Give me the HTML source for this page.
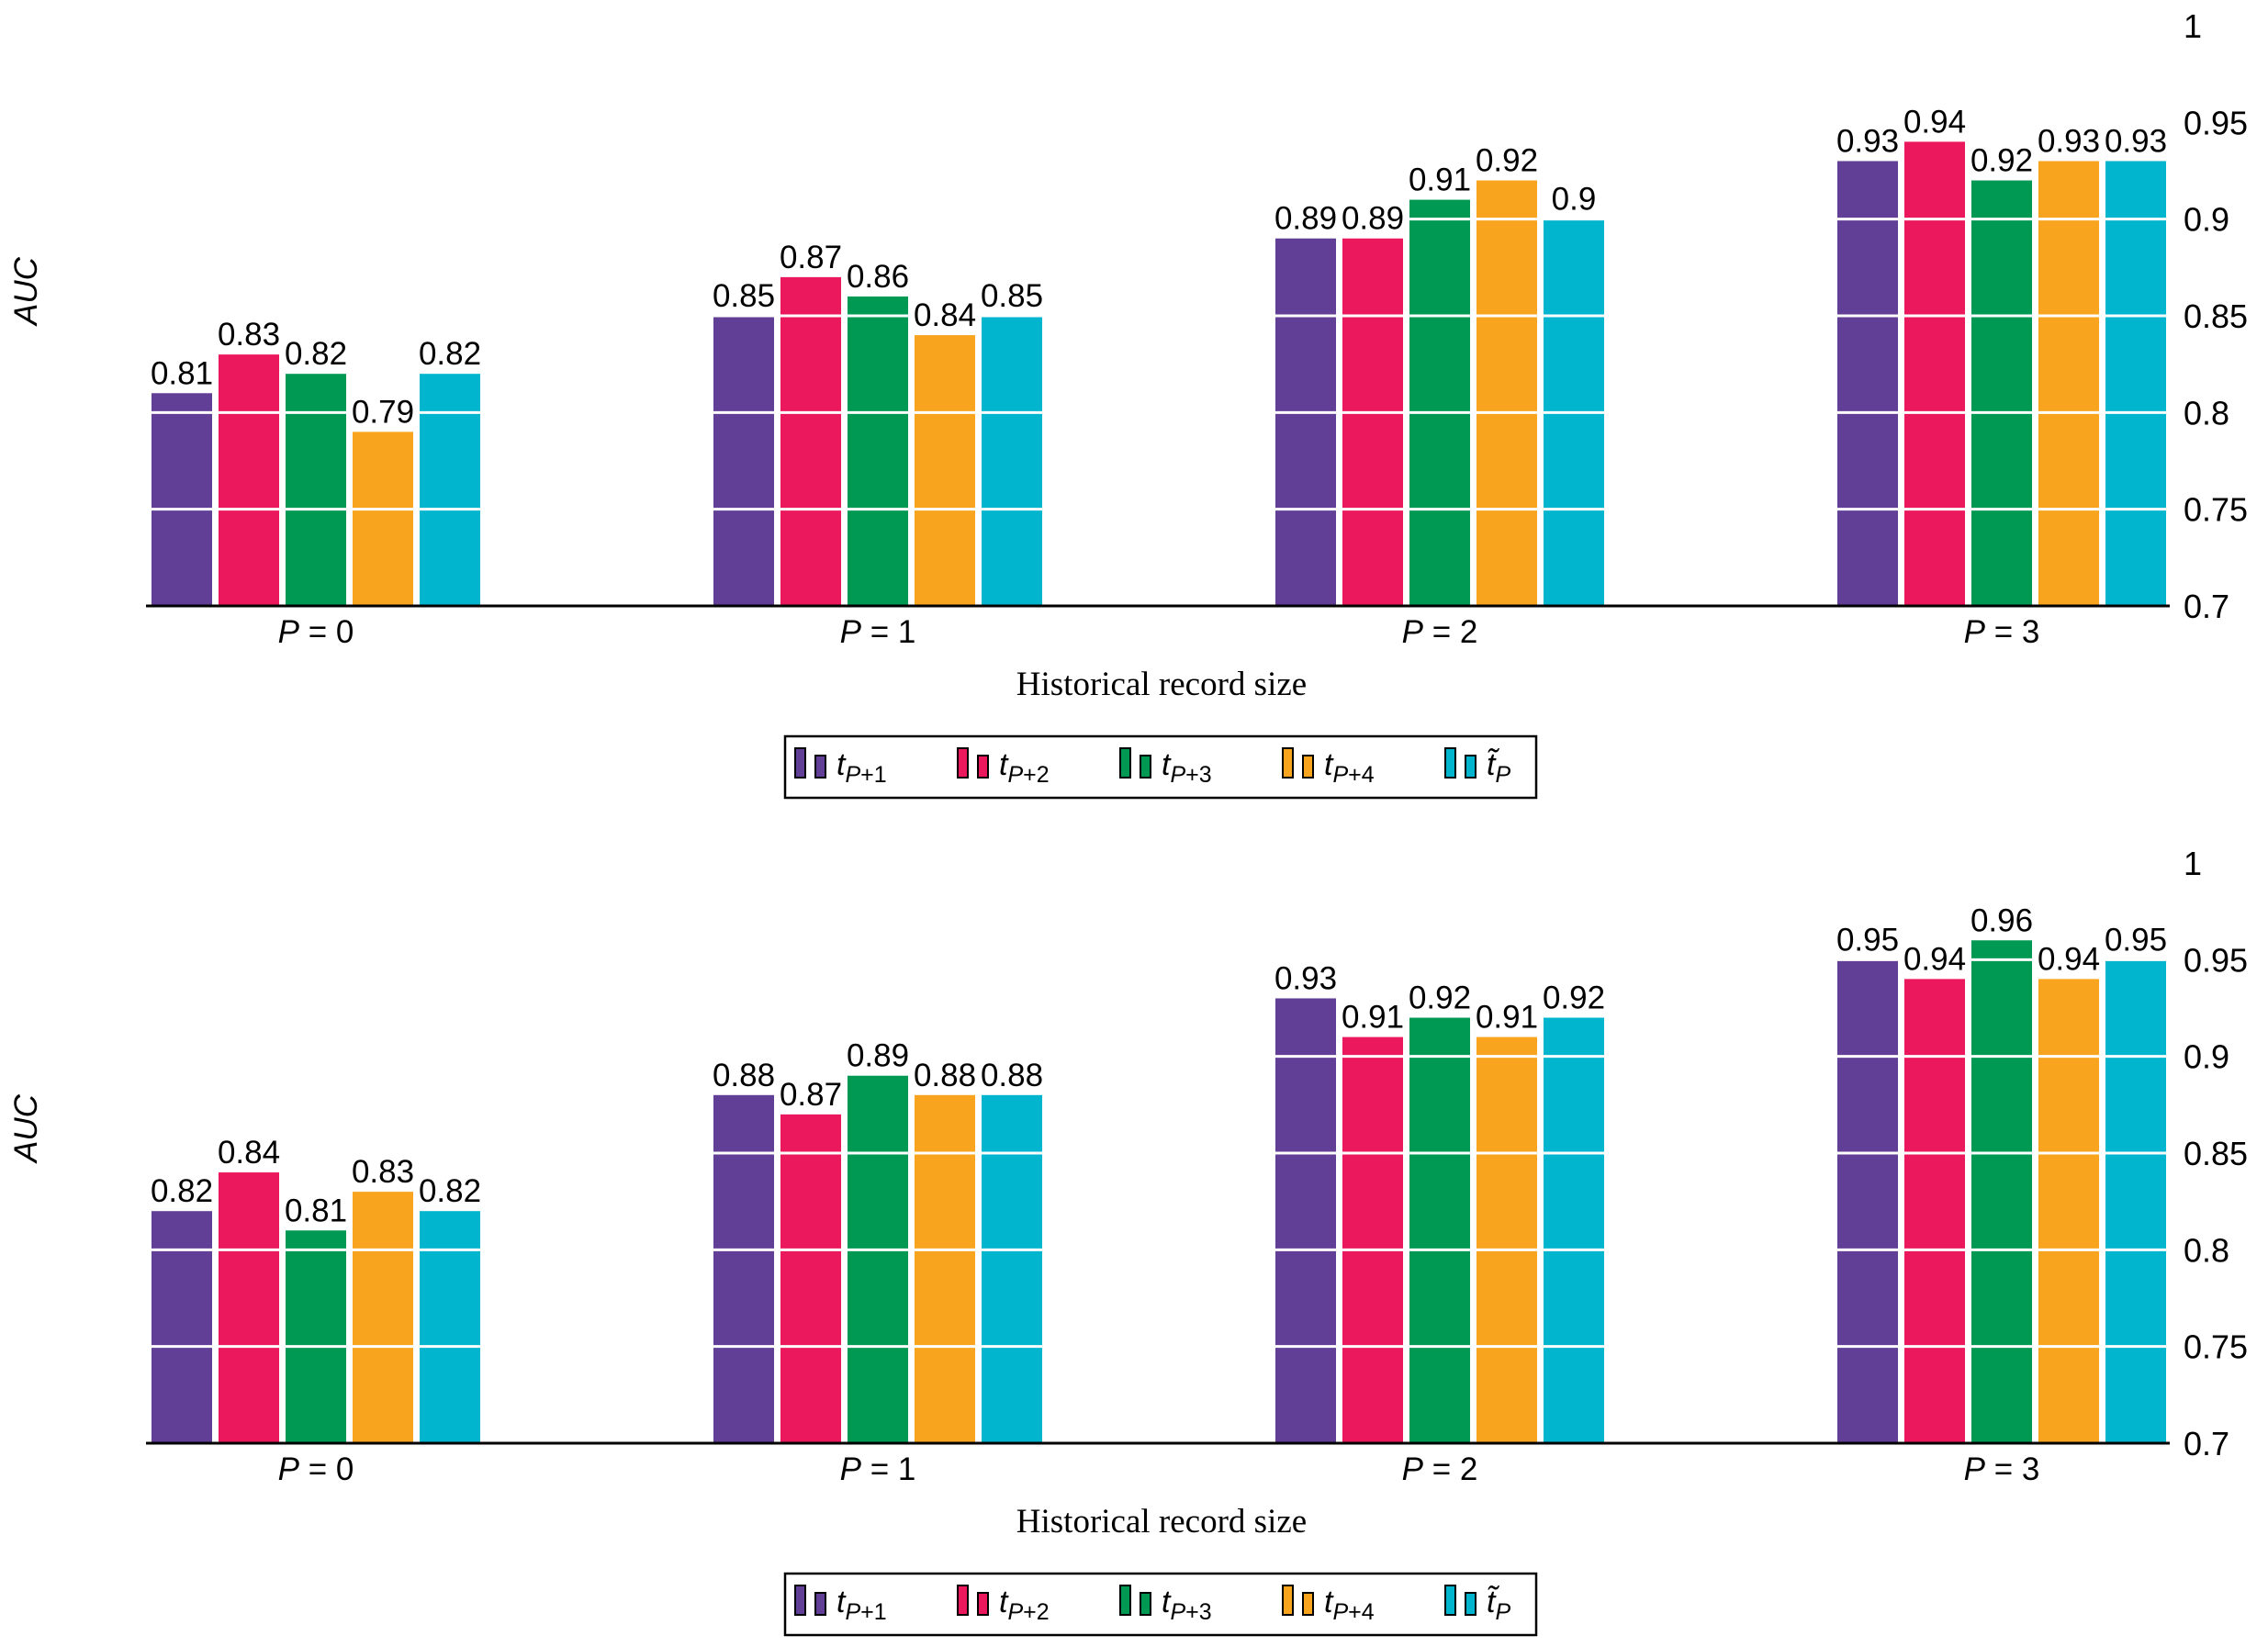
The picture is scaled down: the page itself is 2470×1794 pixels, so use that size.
<!DOCTYPE html>
<html><head><meta charset="utf-8"><style>
html,body{margin:0;padding:0;background:#fff;}
svg{display:block;font-family:"Liberation Sans","DejaVu Sans",sans-serif;}
</style></head><body>
<svg id="chart" width="2470" height="1794" viewBox="0 0 2470 1794"></svg>
<script>
const categories = ["P = 0","P = 1","P = 2","P = 3"];
const seriesNames = ["tP+1","tP+2","tP+3","tP+4","tP~"];
const colors = ["#623f96","#ec185d","#009953","#f8a41f","#00b5cd"];
const topT1 = [0.81,0.85,0.89,0.93];
const topT2 = [0.83,0.87,0.89,0.94];
const topT3 = [0.82,0.86,0.91,0.92];
const topT4 = [0.79,0.84,0.92,0.93];
const topTP = [0.82,0.85,0.90,0.93];
const botT1 = [0.82,0.88,0.93,0.95];
const botT2 = [0.84,0.87,0.91,0.94];
const botT3 = [0.81,0.89,0.92,0.96];
const botT4 = [0.83,0.88,0.91,0.94];
const botTP = [0.82,0.88,0.92,0.95];
const yTicks = [0.7,0.75,0.8,0.85,0.9,0.95,1];

const NS="http://www.w3.org/2000/svg";
const svg=document.getElementById('chart');
function mk(tag,attrs,parent){const e=document.createElementNS(NS,tag);for(const k in attrs)e.setAttribute(k,attrs[k]);(parent||svg).appendChild(e);return e;}

function drawPanel(series, axisY, name){
  const g=mk('g',{});
  
  
  const yScale=v=>axisY-(v-0.7)/0.3*632;
  const groupStart=i=>165+i*612;
  const barW=66, pitch=73;
  series.forEach((vals,s)=>{
    vals.forEach((v,i)=>{
      const x=groupStart(i)+s*pitch, y=yScale(v);
      const r=mk('rect',{x:x,y:y,width:barW,height:axisY-y,fill:colors[s]},g);
      
      
    });
  });
  yTicks.forEach(v=>{
    const y=yScale(v);
    if(v>0.7) mk('line',{x1:160,x2:2363,y1:y,y2:y,stroke:'#fff','stroke-width':3},g);
    const t=mk('text',{x:2378,y:y+13,'font-size':36,fill:'#000'},g);
    t.textContent=String(v);
    
    
  });
  series.forEach((vals,s)=>{
    vals.forEach((v,i)=>{
      const x=groupStart(i)+s*pitch, y=yScale(v);
      const t=mk('text',{x:x+barW/2,y:y-10,'text-anchor':'middle','font-size':35,fill:'#000'},g);
      t.textContent=String(v);
      
      
    });
  });
  mk('line',{x1:159,x2:2363,y1:axisY,y2:axisY,stroke:'#000','stroke-width':3},g);
  categories.forEach((c,i)=>{
    const cx=groupStart(i)+179;
    const t=mk('text',{x:cx,y:axisY+40,'text-anchor':'middle','font-size':35,fill:'#000'},g);
    t.innerHTML='<tspan font-style="italic">P</tspan> = '+i;
    
    
  });
  const xt=mk('text',{x:1265,y:axisY+97,'text-anchor':'middle','font-size':37,'font-family':'"Liberation Serif",serif',fill:'#000'},g);
  xt.textContent='Historical record size';
  
  
  const yt=mk('text',{x:0,y:0,'text-anchor':'middle','font-size':35,'font-style':'italic',transform:'translate(40,'+(axisY-343)+') rotate(-90)',fill:'#000'},g);
  yt.textContent='AUC';
  
  
  const ly=axisY+142;
  const lg=mk('g',{},g);
  
  
  mk('rect',{x:855,y:ly,width:818,height:67,fill:'#fff',stroke:'#000','stroke-width':2.5},lg);
  const labs=['<tspan font-style="italic">t</tspan><tspan font-size="25" dy="8"><tspan font-style="italic">P</tspan>+1</tspan>',
    '<tspan font-style="italic">t</tspan><tspan font-size="25" dy="8"><tspan font-style="italic">P</tspan>+2</tspan>',
    '<tspan font-style="italic">t</tspan><tspan font-size="25" dy="8"><tspan font-style="italic">P</tspan>+3</tspan>',
    '<tspan font-style="italic">t</tspan><tspan font-size="25" dy="8"><tspan font-style="italic">P</tspan>+4</tspan>',
    '<tspan font-style="italic">t̃</tspan><tspan font-size="25" dy="8" font-style="italic">P</tspan>'];
  colors.forEach((c,s)=>{
    const x=866+s*177;
    const e=mk('g',{},lg);
    
    
    mk('rect',{x:x,y:ly+13,width:11,height:32,fill:c,stroke:'#000','stroke-width':2},e);
    mk('rect',{x:x+22,y:ly+21,width:11,height:24,fill:c,stroke:'#000','stroke-width':2},e);
    const t=mk('text',{x:x+45,y:ly+42,'font-size':34,fill:'#000'},e);
    t.innerHTML=labs[s];
  });
}
drawPanel([topT1,topT2,topT3,topT4,topTP],660,'top-chart');
drawPanel([botT1,botT2,botT3,botT4,botTP],1572,'bottom-chart');
</script>
</body></html>
